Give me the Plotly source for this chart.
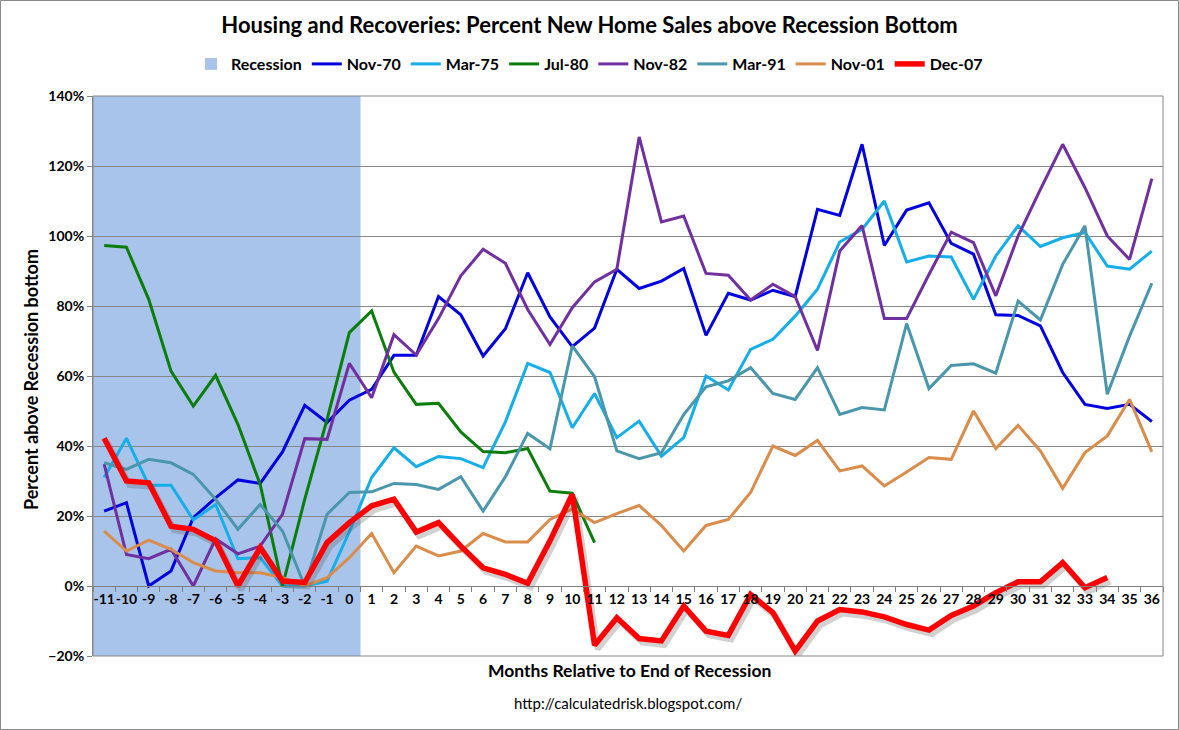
import plotly.graph_objects as go

months = list(range(-11, 37))
month_labels = [str(m) for m in months]

recession_months = list(range(-11, 1))

nov70 = [21.4, 23.8, 0, 4.3, 19.5, 25.2, 30.3, 29.3, 38.3, 51.6, 46.7, 53.1,
         56.2, 65.9, 65.9, 82.7, 77.5, 65.7, 73.5, 89.5, 76.9, 68.4, 73.7, 90.5,
         85, 87.1, 90.7, 71.6, 83.6, 81.7, 84.5, 82.7, 107.6, 105.9, 126.2,
         97.3, 107.4, 109.5, 97.9, 94.8, 77.5, 77.3, 74.3, 61, 51.9, 50.7, 51.9, 47]
mar75 = [31, 42.2, 28.8, 28.8, 18.9, 23.3, 7.8, 8.1, 0, 0, 1.4, 15.5,
         31, 39.5, 34.1, 37, 36.4, 33.8, 46.9, 63.6, 61, 45.2, 55, 42.4,
         47.1, 37.1, 42.4, 60, 56, 67.6, 70.5, 77.1, 84.8, 98.3, 101.9,
         110, 92.6, 94.3, 94, 81.9, 94.3, 102.9, 97, 99.5, 101, 91.4, 90.5, 95.7]
jul80 = [97.3, 96.8, 81.9, 61.4, 51.4, 60.2, 46.2, 29, 0, 24.8, 47.6, 72.4,
         78.6, 61.1, 51.9, 52.2, 44, 38.4, 38.1, 39.3, 27.1, 26.5, 12.4]
nov82 = [34.8, 9, 7.8, 10.5, 0, 13.5, 9.2, 11.4, 20.5, 42.1, 41.9, 63.6,
         53.8, 71.8, 66, 76.4, 88.6, 96.2, 92.2, 79, 69, 79.5, 86.9, 90.5,
         128.3, 104, 105.7, 89.3, 88.8, 81.7, 86.2, 82.7, 67.3, 95.7, 103,
         76.4, 76.4, 89, 101.1, 98.1, 82.9, 100, 113.3, 126.2, 113.8, 100, 93.3, 116.4]
mar91 = [35.2, 33.3, 36.2, 35.2, 31.9, 24.8, 16.2, 23.3, 15.7, 0, 20.5, 26.7,
         26.9, 29.3, 29, 27.6, 31.2, 21.4, 31.2, 43.6, 39.2, 68.6, 59.8, 38.6,
         36.4, 38.1, 49, 56.9, 58.6, 62.4, 55, 53.3, 62.4, 49, 51,
         50.3, 75, 56.4, 63, 63.5, 60.8, 81.4, 76, 91.9, 102.9, 54.8, 71.4, 86.5]
nov01 = [15.7, 10, 13.1, 10.5, 6.7, 4.3, 3.8, 3.8, 2.4, 0, 2.4, 8.1,
         15, 3.8, 11.4, 8.6, 10, 15, 12.6, 12.6, 19, 22, 18.1, 20.7,
         23, 17.3, 10, 17.3, 19, 26.7, 40, 37.3, 41.6, 32.9, 34.3,
         28.6, 32.6, 36.7, 36.2, 50, 39.3, 45.9, 38.6, 27.9, 38.1, 42.9, 53.3, 38.3]
dec07 = [42.2, 30, 29.5, 17.1, 16.2, 12.9, 0, 11, 1.4, 1, 12.4, 18.1,
         22.9, 24.8, 15.4, 18.1, 11.4, 5.2, 3.3, 0.8, 12.9, 26.2, -16.9, -9.1,
         -15, -15.7, -5.7, -12.9, -14.1, -2.4, -7.6, -18.6, -10, -6.7, -7.4,
         -8.8, -11, -12.6, -8.4, -5.7, -1.9, 1.2, 1.2, 6.7, -0.5, 2.4]

series = [
    ("Nov-70", nov70, "#0000E0"),
    ("Mar-75", mar75, "#16AEE8"),
    ("Jul-80", jul80, "#0B7D0B"),
    ("Nov-82", nov82, "#7030A0"),
    ("Mar-91", mar91, "#4A96AC"),
    ("Nov-01", nov01, "#DA8C4A"),
]
red_name, red_color = "Dec-07", "#FF0000"
recession_color = "#A9C4EB"

FONT = "Lato"
GRID = "#878787"

# plot area geometry (px)
W, H = 1179, 730
L, R, T, B = 93, 16, 96, 74
PW, PH = W - L - R, H - T - B
YMIN, YMAX = -20, 140
ncat = len(month_labels)
xr = [-0.5, ncat - 0.5]

fig = go.Figure()

# legend entry for recession (shading drawn as a shape from recession_months)
fig.add_trace(go.Bar(x=[None], y=[None], name="Recession",
                     marker=dict(color=recession_color, line=dict(width=0)),
                     showlegend=True, hoverinfo="skip"))

for name, vals, col in series:
    fig.add_trace(go.Scatter(x=month_labels[:len(vals)], y=vals, name=name,
                             mode="lines", line=dict(color=col, width=3)))

# shadow for the Dec-07 line (same data on an axis offset by a few pixels)
dx_px, dy_px = 3, 4
sx = dx_px * (xr[1] - xr[0]) / PW
sy = dy_px * (YMAX - YMIN) / PH
fig.add_trace(go.Scatter(x=month_labels[:len(dec07)], y=dec07, mode="lines",
                         line=dict(color="rgba(70,70,70,0.25)", width=6),
                         xaxis="x2", yaxis="y2", showlegend=False, hoverinfo="skip"))
fig.add_trace(go.Scatter(x=month_labels[:len(dec07)], y=dec07, name=red_name,
                         mode="lines", line=dict(color=red_color, width=5.5),
                         xaxis="x3", yaxis="y3"))

# recession shading
i0 = month_labels.index(str(recession_months[0]))
i1 = month_labels.index(str(recession_months[-1]))
fig.add_shape(type="rect", xref="x", yref="y domain", x0=i0 - 0.5, x1=i1 + 0.5,
              y0=0, y1=1, fillcolor=recession_color, line=dict(width=0), layer="below")

# plot area border
fig.add_shape(type="rect", xref="paper", yref="paper", x0=0, x1=1, y0=0, y1=1,
              line=dict(color=GRID, width=1), layer="above")
# outer border
fig.add_shape(type="rect", xref="paper", yref="paper",
              x0=(0.5 - L) / PW, x1=(W - 0.5 - L) / PW,
              y0=-(H - 0.5 - T - PH) / PH, y1=(T - 0.5) / PH + 1,
              line=dict(color="#888888", width=1), layer="above")

zero_pos = (0 - YMIN) / (YMAX - YMIN)

cat_axis = dict(type="category", categoryorder="array", categoryarray=month_labels)

fig.update_layout(
    width=W, height=H,
    margin=dict(l=L, r=R, t=T, b=B, autoexpand=False),
    paper_bgcolor="white", plot_bgcolor="white",
    font=dict(family=FONT, color="black"),
    title=dict(text="<b>Housing and Recoveries: Percent New Home Sales above Recession Bottom</b>",
               x=0.5, xref="container", xanchor="center",
               y=1 - 25 / H, yref="container", yanchor="middle",
               font=dict(family=FONT, size=22, color="black")),
    legend=dict(orientation="h", xref="container", yref="container",
                x=0.5, xanchor="center", y=1 - 64 / H, yanchor="middle",
                font=dict(family=FONT, size=16, color="black", weight="bold"),
                itemwidth=30, tracegroupgap=0, traceorder="normal"),
    showlegend=True,
    bargap=0,
    xaxis=dict(**cat_axis, range=xr, anchor="free", position=zero_pos,
               showgrid=False, zeroline=False,
               showline=True, linecolor="#7F7F7F", linewidth=1,
               ticks="outside", tickson="boundaries", ticklen=5, tickcolor="#7F7F7F",
               tickangle=0,
               tickfont=dict(family=FONT, size=14, color="black", weight="bold")),
    yaxis=dict(range=[YMIN, YMAX], dtick=20, ticksuffix="%",
               showgrid=True, gridcolor=GRID, gridwidth=1, zeroline=False,
               showline=True, linecolor=GRID, linewidth=1,
               ticks="outside", ticklen=5, tickcolor=GRID,
               tickfont=dict(family=FONT, size=14, color="black", weight="bold")),
    xaxis2=dict(**cat_axis, range=[xr[0] - sx, xr[1] - sx], overlaying="x",
                anchor="y2", visible=False),
    yaxis2=dict(range=[YMIN + sy, YMAX + sy], overlaying="y", anchor="x2", visible=False),
    xaxis3=dict(**cat_axis, range=xr, overlaying="x", anchor="y3", visible=False),
    yaxis3=dict(range=[YMIN, YMAX], overlaying="y", anchor="x3", visible=False),
)

fig.add_annotation(text="<b>Months Relative to End of Recession</b>",
                   xref="paper", yref="paper", x=(629 - L) / PW, y=(T + PH - 670) / PH,
                   xanchor="center", yanchor="middle", showarrow=False,
                   font=dict(family=FONT, size=17.5, color="black"))
fig.add_annotation(text="http://calculatedrisk.blogspot.com/",
                   xref="paper", yref="paper", x=(628 - L) / PW, y=(T + PH - 703) / PH,
                   xanchor="center", yanchor="middle", showarrow=False,
                   font=dict(family=FONT, size=15, color="black"))
fig.add_annotation(text="<b>Percent above Recession bottom</b>",
                   xref="paper", yref="paper", x=(31 - L) / PW, y=(T + PH - 380) / PH,
                   xanchor="center", yanchor="middle", showarrow=False, textangle=-90,
                   font=dict(family=FONT, size=18, color="black", weight=600))

fig.write_html("out.html", config={"displayModeBar": False},
               post_script="document.body.style.margin='0px';document.body.style.overflow='hidden';")
